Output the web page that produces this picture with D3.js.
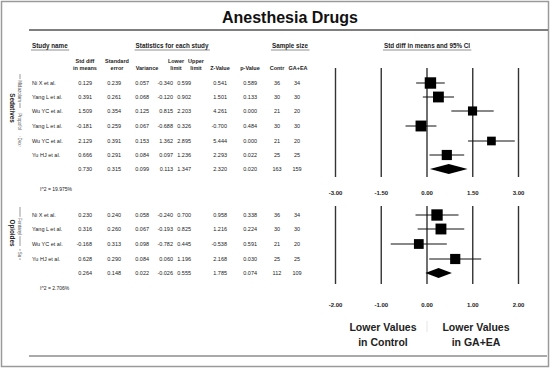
<!DOCTYPE html>
<html><head><meta charset="utf-8">
<script src="https://cdn.jsdelivr.net/npm/d3@7"></script>
<style>
html,body{margin:0;padding:0;background:#fff;}
svg{display:block;font-family:"Liberation Sans",Arial,Helvetica,sans-serif;}
</style></head>
<body><svg id="c" width="552" height="369"></svg>
<script>
// ---------- DATA ----------
const chartTitle = "Anesthesia Drugs";
const columnHeaders = [["Std diff","in means"],["Standard","error"],["","Variance"],["Lower","limit"],["Upper","limit"],["","Z-Value"],["","p-Value"],["","Contr"],["","GA+EA"]];

const sedNames   = ["Ni X et al.","Yang L et al.","Wu YC et al.","Yang L et al.","Wu YC et al.","Yu HJ et al."];
const sedStdDiff = [0.129, 0.391, 1.509, -0.181, 2.129, 0.666];
const sedSE      = [0.239, 0.261, 0.354, 0.259, 0.391, 0.291];
const sedVar     = [0.057, 0.068, 0.125, 0.067, 0.153, 0.084];
const sedLower   = [-0.340, -0.120, 0.815, -0.688, 1.362, 0.097];
const sedUpper   = [0.599, 0.902, 2.203, 0.326, 2.895, 1.236];
const sedZ       = [0.541, 1.501, 4.261, -0.700, 5.444, 2.293];
const sedP       = [0.589, 0.133, 0.000, 0.484, 0.000, 0.022];
const sedContr   = [36, 30, 21, 30, 21, 25];
const sedGA      = [34, 30, 20, 30, 20, 25];
const sedSummary = [0.730, 0.315, 0.099, 0.113, 1.347, 2.320, 0.020, 163, 159];
const sedI2      = "I^2 = 19.975%";
const sedSubgroups = ["Midazolam","Propofol","Dex"];
const sedTicks   = [-3, -1.5, 0, 1.5, 3];

const opiNames   = ["Ni X et al.","Yang L et al.","Wu YC et al.","Yu HJ et al."];
const opiStdDiff = [0.230, 0.316, -0.168, 0.628];
const opiSE      = [0.240, 0.260, 0.313, 0.290];
const opiVar     = [0.058, 0.067, 0.098, 0.084];
const opiLower   = [-0.240, -0.193, -0.782, 0.060];
const opiUpper   = [0.700, 0.825, 0.445, 1.196];
const opiZ       = [0.958, 1.216, -0.538, 2.168];
const opiP       = [0.338, 0.224, 0.591, 0.030];
const opiContr   = [36, 30, 21, 25];
const opiGA      = [34, 30, 20, 25];
const opiSummary = [0.264, 0.148, 0.022, -0.026, 0.555, 1.785, 0.074, 112, 109];
const opiI2      = "I^2 = 2.706%";
const opiSubgroups = ["Fentanyl","Su"];
const opiTicks   = [-2, -1, 0, 1, 2];

const groupLabels = ["Sedatives","Opioides"];
const favourLeft  = ["Lower Values","in Control"];
const favourRight = ["Lower Values","in GA+EA"];

// ---------- LAYOUT ----------
const svg = d3.select("#c");
const loc = d3.formatLocale({decimal:".",thousands:",",grouping:[3],currency:["",""],minus:"-"});
const f3 = loc.format(".3f"), f2 = loc.format(".2f");

const colX     = [92,121,149,173,191,227,257,277,297];
const colAnch  = ["end","end","end","end","end","end","end","middle","middle"];
const colHdrC  = [85,117,147,176,196,220,250,277,298];
const plotX = [335,518];

// frame
svg.append("rect").attr("x",1.5).attr("y",1.5).attr("width",547).attr("height",365)
  .attr("fill","none").attr("stroke","#9a9a9a").attr("stroke-width",1.5);
svg.append("text").attr("x",290).attr("y",23).attr("text-anchor","middle")
  .attr("font-size",16).attr("font-weight","bold").attr("fill","#111").text(chartTitle);
svg.append("line").attr("x1",29).attr("x2",548).attr("y1",30).attr("y2",30).attr("stroke","#555").attr("stroke-width",1.5);
svg.append("line").attr("x1",29).attr("x2",547).attr("y1",356).attr("y2",356).attr("stroke","#555").attr("stroke-width",1.2);

// top headers (underlined)
function uHeader(txt,x,anchor){
  const t = svg.append("text").attr("x",x).attr("y",48).attr("text-anchor",anchor)
    .attr("font-size",6.3).attr("font-weight","bold").attr("fill","#222").text(txt);
  const b = t.node().getBBox();
  svg.append("line").attr("x1",b.x-1).attr("x2",b.x+b.width+1).attr("y1",50).attr("y2",50)
    .attr("stroke","#444").attr("stroke-width",0.6);
}
uHeader("Study name",32,"start");
uHeader("Statistics for each study",172,"middle");
uHeader("Sample size",290,"middle");
uHeader("Std diff in means and 95% CI",427,"middle");

columnHeaders.forEach((h,i)=>{
  h.forEach((line,j)=>{
    if(!line) return;
    svg.append("text").attr("x",colHdrC[i]).attr("y",63+j*6.5).attr("text-anchor","middle")
      .attr("font-size",5.5).attr("font-weight","bold").attr("fill","#222").text(line);
  });
});

function rowCells(vals){
  return vals.map((v,i)=> i>=7 ? String(v) : f3(v));
}
function drawCells(vals,y){
  rowCells(vals).forEach((s,k)=>{
    svg.append("text").attr("x",colX[k]).attr("y",y+2).attr("text-anchor",colAnch[k])
      .attr("font-size",5.5).attr("fill","#222").text(s);
  });
}

function drawGroup(cfg){
  const x = d3.scaleLinear().domain(d3.extent(cfg.ticks)).range(plotX);
  const yRows = cfg.rowY;
  // table
  cfg.names.forEach((nm,i)=>{
    svg.append("text").attr("x",32).attr("y",yRows[i]+2).attr("font-size",5.5).attr("fill","#222").text(nm);
    drawCells([cfg.d[i],cfg.se[i],cfg.v[i],cfg.lo[i],cfg.hi[i],cfg.z[i],cfg.p[i],cfg.c[i],cfg.g[i]], yRows[i]);
  });
  drawCells(cfg.summary, cfg.sumY);
  svg.append("text").attr("x",40).attr("y",cfg.i2Y).attr("font-size",5).attr("fill","#222").text(cfg.i2);

  // axis with full-height tick lines
  const ax = svg.append("g").attr("transform",`translate(0,${cfg.lineBottom})`)
    .call(d3.axisBottom(x).tickValues(cfg.ticks).tickFormat(f2)
      .tickSizeInner(-(cfg.lineBottom-cfg.lineTop)).tickSizeOuter(0).tickPadding(cfg.labelY-cfg.lineBottom-4));
  ax.select(".domain").remove();
  ax.selectAll(".tick line").attr("stroke","#333").attr("stroke-width",1.4);
  ax.selectAll(".tick text").attr("font-size",6).attr("font-weight","bold").attr("fill","#222")
    .attr("font-family","Liberation Sans,Arial,sans-serif");

  // whiskers and squares
  const w = cfg.v.map(v=>1/v);
  const sz = d3.scaleSqrt().domain([6,18]).range([8.5,11.5]);
  cfg.names.forEach((nm,i)=>{
    svg.append("line").attr("x1",x(cfg.lo[i])).attr("x2",x(cfg.hi[i]))
      .attr("y1",yRows[i]).attr("y2",yRows[i]).attr("stroke","#111").attr("stroke-width",1);
    const s = sz(w[i]);
    svg.append("rect").attr("x",x(cfg.d[i])-s/2).attr("y",yRows[i]-s/2)
      .attr("width",s).attr("height",s).attr("fill","#000");
  });
  const sm = cfg.summary, yS = cfg.sumY, hh = 5;
  svg.append("path").attr("d",`M${x(sm[3])},${yS}L${x(sm[0])},${yS-hh}L${x(sm[4])},${yS}L${x(sm[0])},${yS+hh}Z`)
    .attr("fill","#000");

  // rotated labels
  svg.append("text").attr("transform",`translate(12,${cfg.groupY}) rotate(90)`)
    .attr("text-anchor","middle").attr("dy","0.35em").attr("font-size",6.3).attr("font-weight","bold")
    .attr("fill","#222").text(cfg.group);
  cfg.subs.forEach((s,i)=>{
    const [y0,y1] = cfg.subExt[i];
    const cy = (y0+y1)/2;
    const t = svg.append("text").attr("transform",`translate(20,${cy}) rotate(90)`)
      .attr("text-anchor","middle").attr("dy","0.35em").attr("font-size",4.5).attr("fill","#555").text(s);
    const len = t.node().getComputedTextLength();
    if (cy-len/2-1 > y0) svg.append("line").attr("x1",20).attr("x2",20).attr("y1",y0).attr("y2",cy-len/2-1).attr("stroke","#555").attr("stroke-width",0.6);
    if (cy+len/2+1 < y1) svg.append("line").attr("x1",20).attr("x2",20).attr("y1",cy+len/2+1).attr("y2",y1).attr("stroke","#555").attr("stroke-width",0.6);
  });
}

drawGroup({names:sedNames,d:sedStdDiff,se:sedSE,v:sedVar,lo:sedLower,hi:sedUpper,z:sedZ,p:sedP,c:sedContr,g:sedGA,
  summary:sedSummary,i2:sedI2,ticks:sedTicks,rowY:[83,97,111,126,141,155],sumY:169,i2Y:191,
  lineTop:68,lineBottom:177,labelY:195,group:groupLabels[0],groupY:108,
  subs:sedSubgroups,subExt:[[74,108],[112,131],[136,147]]});
drawGroup({names:opiNames,d:opiStdDiff,se:opiSE,v:opiVar,lo:opiLower,hi:opiUpper,z:opiZ,p:opiP,c:opiContr,g:opiGA,
  summary:opiSummary,i2:opiI2,ticks:opiTicks,rowY:[215,229,244,259],sumY:273,i2Y:290,
  lineTop:206,lineBottom:284,labelY:307,group:groupLabels[1],groupY:233,
  subs:opiSubgroups,subExt:[[207,246],[249,260]]});

// favour labels
[[favourLeft,383],[favourRight,476]].forEach(([lines,cx])=>{
  lines.forEach((l,j)=>{
    svg.append("text").attr("x",cx).attr("y",331+j*15).attr("text-anchor","middle")
      .attr("font-size",10.5).attr("font-weight","bold").attr("fill","#222").text(l);
  });
});
svg.append("line").attr("x1",427).attr("x2",427).attr("y1",321).attr("y2",332).attr("stroke","#e4e4e4").attr("stroke-width",1);
</script></body></html>
